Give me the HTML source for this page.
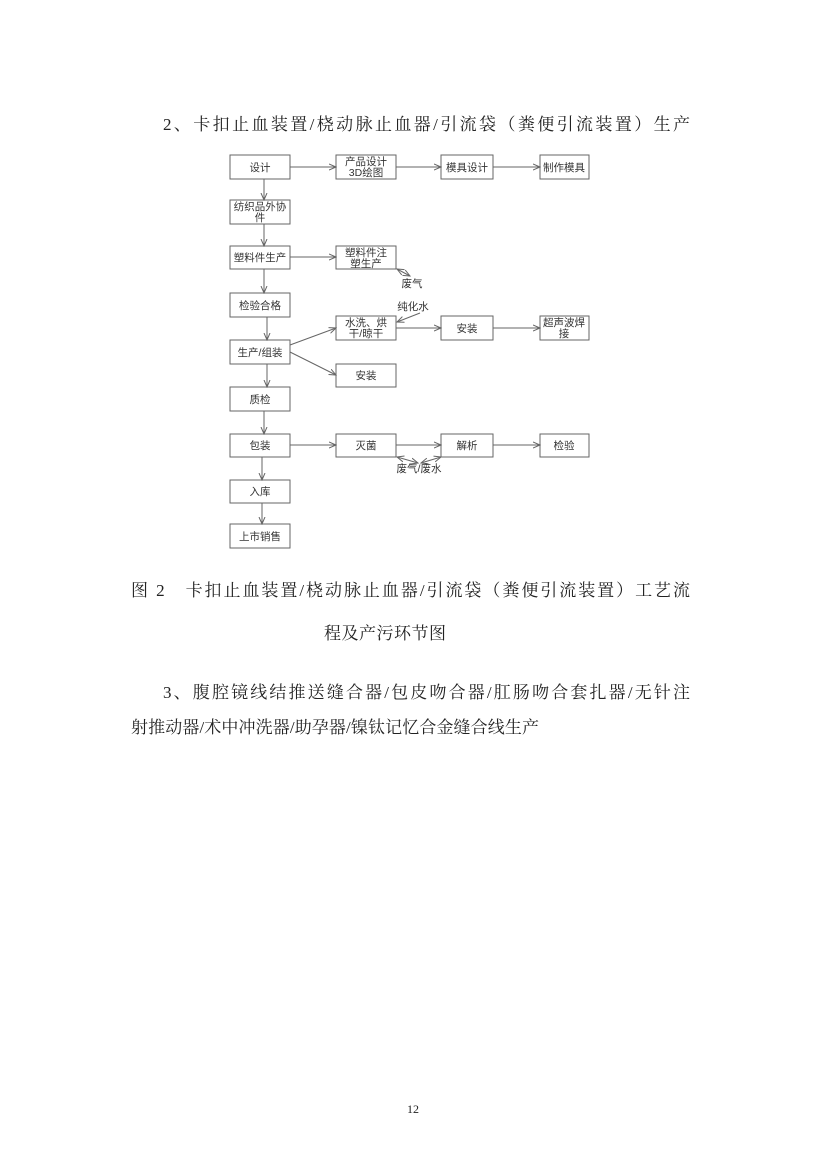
<!DOCTYPE html>
<html><head><meta charset="utf-8"><style>
html,body{margin:0;padding:0;background:#fff;}
svg{display:block;}
.s{font-family:"Liberation Serif","Noto Serif CJK SC",serif;font-size:17px;fill:#222;}
.d{font-family:"Liberation Sans","Noto Sans CJK SC",sans-serif;font-size:10.5px;fill:#333;text-anchor:middle;}
rect{fill:#fff;stroke:#666;stroke-width:1;}
line,path{stroke:#666;stroke-width:1;fill:none;}
</style></head><body>
<svg width="827" height="1170" viewBox="0 0 827 1170" xmlns="http://www.w3.org/2000/svg">
<defs>
<marker id="a" markerWidth="8" markerHeight="8" refX="7" refY="4" orient="auto" markerUnits="userSpaceOnUse">
<path d="M0,1 L7,4 L0,7" style="stroke:#666;fill:none"/></marker>
<marker id="b" markerWidth="8" markerHeight="8" refX="1" refY="4" orient="auto" markerUnits="userSpaceOnUse">
<path d="M8,1 L1,4 L8,7" style="stroke:#666;fill:none"/></marker>
</defs>
<text class="s" x="163" y="130" textLength="527" lengthAdjust="spacing">2、卡扣止血装置/桡动脉止血器/引流袋（粪便引流装置）生产</text>

<rect x="230" y="155" width="60" height="24"/><text class="d" x="260" y="171">设计</text>
<rect x="230" y="200" width="60" height="24"/><text class="d" x="260" y="210">纺织品外协</text><text class="d" x="260" y="221">件</text>
<rect x="230" y="246" width="60" height="23"/><text class="d" x="260" y="261">塑料件生产</text>
<rect x="230" y="293" width="60" height="24"/><text class="d" x="260" y="309">检验合格</text>
<rect x="230" y="340" width="60" height="24"/><text class="d" x="260" y="356">生产/组装</text>
<rect x="230" y="387" width="60" height="24"/><text class="d" x="260" y="403">质检</text>
<rect x="230" y="434" width="60" height="23"/><text class="d" x="260" y="449">包装</text>
<rect x="230" y="480" width="60" height="23"/><text class="d" x="260" y="495">入库</text>
<rect x="230" y="524" width="60" height="24"/><text class="d" x="260" y="540">上市销售</text>
<line x1="264" y1="179" x2="264" y2="200" marker-end="url(#a)"/>
<line x1="264" y1="224" x2="264" y2="246" marker-end="url(#a)"/>
<line x1="264" y1="269" x2="264" y2="293" marker-end="url(#a)"/>
<line x1="267" y1="317" x2="267" y2="340" marker-end="url(#a)"/>
<line x1="267" y1="364" x2="267" y2="387" marker-end="url(#a)"/>
<line x1="264" y1="411" x2="264" y2="434" marker-end="url(#a)"/>
<line x1="262" y1="457" x2="262" y2="480" marker-end="url(#a)"/>
<line x1="262" y1="503" x2="262" y2="524" marker-end="url(#a)"/>

<rect x="336" y="155" width="60" height="24"/><text class="d" x="366" y="165">产品设计</text><text class="d" x="366" y="176">3D绘图</text>
<rect x="336" y="246" width="60" height="23"/><text class="d" x="366" y="256">塑料件注</text><text class="d" x="366" y="267">塑生产</text>
<rect x="336" y="316" width="60" height="24"/><text class="d" x="366" y="326">水洗、烘</text><text class="d" x="366" y="337">干/晾干</text>
<rect x="336" y="364" width="60" height="23"/><text class="d" x="366" y="379">安装</text>
<rect x="336" y="434" width="60" height="23"/><text class="d" x="366" y="449">灭菌</text>
<rect x="441" y="155" width="52" height="24"/><text class="d" x="467" y="171">模具设计</text>
<rect x="441" y="316" width="52" height="24"/><text class="d" x="467" y="332">安装</text>
<rect x="441" y="434" width="52" height="23"/><text class="d" x="467" y="449">解析</text>
<rect x="540" y="155" width="49" height="24"/><text class="d" x="564" y="171">制作模具</text>
<rect x="540" y="316" width="49" height="24"/><text class="d" x="564" y="326">超声波焊</text><text class="d" x="564" y="337">接</text>
<rect x="540" y="434" width="49" height="23"/><text class="d" x="564" y="449">检验</text>

<line x1="290" y1="167" x2="336" y2="167" marker-end="url(#a)"/>
<line x1="396" y1="167" x2="441" y2="167" marker-end="url(#a)"/>
<line x1="493" y1="167" x2="540" y2="167" marker-end="url(#a)"/>
<line x1="290" y1="257" x2="336" y2="257" marker-end="url(#a)"/>
<line x1="290" y1="345" x2="336" y2="328" marker-end="url(#a)"/>
<line x1="290" y1="352" x2="336" y2="375" marker-end="url(#a)"/>
<line x1="396" y1="328" x2="441" y2="328" marker-end="url(#a)"/>
<line x1="493" y1="328" x2="540" y2="328" marker-end="url(#a)"/>
<line x1="290" y1="445" x2="336" y2="445" marker-end="url(#a)"/>
<line x1="396" y1="445" x2="441" y2="445" marker-end="url(#a)"/>
<line x1="493" y1="445" x2="540" y2="445" marker-end="url(#a)"/>
<line x1="397" y1="269" x2="410" y2="276" marker-start="url(#b)" marker-end="url(#a)"/>
<text class="d" x="412" y="287">废气</text>
<text class="d" x="413" y="310">纯化水</text>
<line x1="420" y1="313" x2="397" y2="322" marker-end="url(#a)"/>
<line x1="397" y1="457" x2="418" y2="463" marker-start="url(#b)" marker-end="url(#a)"/>
<line x1="421" y1="463" x2="441" y2="457" marker-start="url(#b)" marker-end="url(#a)"/>
<text class="d" x="419" y="472">废气/废水</text>

<text class="s" x="131" y="596" textLength="559" lengthAdjust="spacing">图 2　卡扣止血装置/桡动脉止血器/引流袋（粪便引流装置）工艺流</text>
<text class="s" x="324" y="639" textLength="122" lengthAdjust="spacing">程及产污环节图</text>
<text class="s" x="163" y="698" textLength="527" lengthAdjust="spacing">3、腹腔镜线结推送缝合器/包皮吻合器/肛肠吻合套扎器/无针注</text>
<text class="s" x="131" y="733" textLength="408" lengthAdjust="spacing">射推动器/术中冲洗器/助孕器/镍钛记忆合金缝合线生产</text>
<text class="s" x="413" y="1113" style="font-size:12px" text-anchor="middle">12</text>
</svg>
</body></html>
